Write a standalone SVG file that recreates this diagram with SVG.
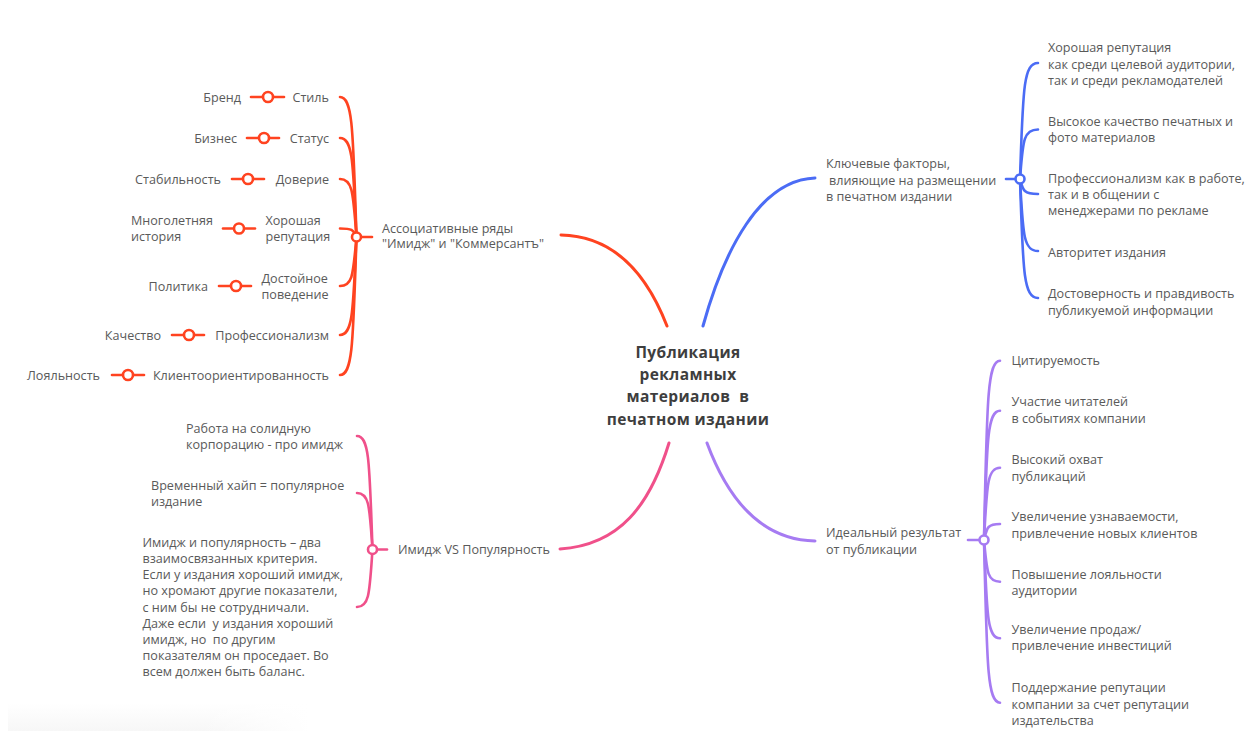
<svg xmlns="http://www.w3.org/2000/svg" width="1256" height="731" viewBox="0 0 1256 731">
<defs>
<linearGradient id="bg" x1="0" y1="0" x2="0" y2="1"><stop offset="0" stop-color="#ffffff"/><stop offset="1" stop-color="#f7f7f7"/></linearGradient>
<linearGradient id="fadeR" x1="0" y1="0" x2="1" y2="0"><stop offset="0" stop-color="#fff" stop-opacity="0"/><stop offset="1" stop-color="#fff" stop-opacity="1"/></linearGradient>
</defs>
<style>
.t{font-family:"Open Sans","Noto Sans","DejaVu Sans",sans-serif;font-size:12.6px;fill:#5a5a5a}
.e{text-anchor:end}
.title{font-family:"Open Sans","Noto Sans","DejaVu Sans",sans-serif;font-size:15.5px;font-weight:700;fill:#3e3e3e;text-anchor:middle;letter-spacing:0.4px}
.c{fill:none;stroke-linecap:round}
.main{stroke-width:3}
.sub{stroke-width:2.6}
.red{stroke:#ff4320}
.blue{stroke:#4b6cf5}
.pink{stroke:#f0508a}
.purp{stroke:#a67bf2}
.nd{fill:#fff;stroke-width:2.6}
</style>
<rect width="1256" height="731" fill="#fff"/>
<rect x="8" y="703" width="300" height="28" fill="url(#bg)"/>
<rect x="200" y="700" width="110" height="31" fill="url(#fadeR)"/>

<g id="connectors">
<path class="c main red" d="M561 235 C612 236 646 272 667 326"/>
<path class="c main blue" d="M703 326 C724 250 760 180 815 178"/>
<path class="c main pink" d="M669 443 C650 505 620 545 560 549"/>
<path class="c main purp" d="M707 443 C730 505 765 540 815 541"/>
</g>

<g id="center">
<text class="title" x="688" y="357.5">Публикация</text>
<text class="title" x="688" y="379.5">рекламных</text>
<text class="title" x="688" y="402" xml:space="preserve">материалов  в</text>
<text class="title" x="688" y="424.5">печатном издании</text>
</g>

<g id="node-assoc">
<g class="c sub red">
<path d="M356.5 237 C353 132 353 97 340 97"/>
<path d="M356.5 237 C353 163 353 138 340 138"/>
<path d="M356.5 237 C353 193.5 353 179 340 179"/>
<path d="M356.5 237 C353 230 353 228.5 340 228.5"/>
<path d="M356.5 237 C353 274 353 286 340 286"/>
<path d="M356.5 237 C353 310.5 353 335 340 335"/>
<path d="M356.5 237 C353 340.5 353 375 340 375"/>
<path d="M361 237 H372"/>
</g>
<circle class="nd red" cx="356.5" cy="237" r="4.5"/>
<text class="t" x="382" y="232.5">Ассоциативные ряды</text>
<text class="t" x="382" y="248">"Имидж" и "Коммерсантъ"</text>
</g>

<g id="assoc-items">
<g class="c sub red">
<path d="M251 97 H284"/><path d="M247 138 H279"/><path d="M232 179 H264"/><path d="M223 228.5 H255"/>
<path d="M219 286 H251"/><path d="M172 335 H204"/><path d="M112 375 H144"/>
</g>
<g class="nd red">
<circle cx="268" cy="97" r="5"/><circle cx="264" cy="138" r="5"/><circle cx="248" cy="179" r="5"/><circle cx="239" cy="228.5" r="5"/>
<circle cx="236" cy="286" r="5"/><circle cx="189" cy="335" r="5"/><circle cx="128" cy="375" r="5"/>
</g>
<text class="t e" x="329" y="101.5">Стиль</text>
<text class="t e" x="241" y="101.5">Бренд</text>
<text class="t e" x="329" y="142.5">Статус</text>
<text class="t e" x="237" y="142.5">Бизнес</text>
<text class="t e" x="329" y="183.5">Доверие</text>
<text class="t e" x="221" y="183.5">Стабильность</text>
<text class="t" x="265.5" y="225">Хорошая</text>
<text class="t" x="265.5" y="241">репутация</text>
<text class="t" x="131" y="225">Многолетняя</text>
<text class="t" x="131" y="241">история</text>
<text class="t" x="261.5" y="282.5">Достойное</text>
<text class="t" x="261.5" y="298.5">поведение</text>
<text class="t e" x="208" y="290.5">Политика</text>
<text class="t e" x="329" y="339.5">Профессионализм</text>
<text class="t e" x="161" y="339.5">Качество</text>
<text class="t e" x="329" y="379.5">Клиентоориентированность</text>
<text class="t e" x="100" y="379.5">Лояльность</text>
</g>

<g id="node-image">
<g class="c sub pink">
<path d="M372.5 549.5 C369.5 464.4 369.5 436 357 436"/>
<path d="M372.5 549.5 C369.5 507 369.5 493 357 493"/>
<path d="M372.5 549.5 C369.5 592.6 369.5 607 357 607"/>
<path d="M377 549.5 H387"/>
</g>
<circle class="nd pink" cx="372.5" cy="549.5" r="4.5"/>
<text class="t" x="398" y="554">Имидж VS Популярность</text>
<text class="t" x="186" y="432.5">Работа на солидную</text>
<text class="t" x="186" y="448.5">корпорацию - про имидж</text>
<text class="t" x="151" y="489.5">Временный хайп = популярное</text>
<text class="t" x="151" y="505.5">издание</text>
<text class="t" x="142.5" y="546.8">Имидж и популярность – два</text>
<text class="t" x="142.5" y="563">взаимосвязанных критерия.</text>
<text class="t" x="142.5" y="579.2">Если у издания хороший имидж,</text>
<text class="t" x="142.5" y="595.4">но хромают другие показатели,</text>
<text class="t" x="142.5" y="611.6">с ним бы не сотрудничали.</text>
<text class="t" x="142.5" y="627.8" xml:space="preserve">Даже если  у издания хороший</text>
<text class="t" x="142.5" y="644" xml:space="preserve">имидж, но  по другим</text>
<text class="t" x="142.5" y="660.2">показателям он проседает. Во</text>
<text class="t" x="142.5" y="676.4">всем должен быть баланс.</text>
</g>

<g id="node-factors">
<g class="c sub blue">
<path d="M1020 179 C1023 92 1023 63 1038 63"/>
<path d="M1020 179 C1023 141.5 1023 129.5 1038 129.5"/>
<path d="M1020 179 C1023 190 1023 194 1038 194"/>
<path d="M1020 179 C1023 233 1023 251 1038 251"/>
<path d="M1020 179 C1023 268 1023 298 1038 298"/>
<path d="M1006 179 H1015"/>
</g>
<circle class="nd blue" cx="1020" cy="179" r="4.5"/>
<text class="t" x="826" y="168">Ключевые факторы,</text>
<text class="t" x="829" y="184.5">влияющие на размещении</text>
<text class="t" x="826" y="200.5">в печатном издании</text>
<text class="t" x="1048" y="52">Хорошая репутация</text>
<text class="t" x="1048" y="68.8">как среди целевой аудитории,</text>
<text class="t" x="1048" y="84.5">так и среди рекламодателей</text>
<text class="t" x="1048" y="126.2">Высокое качество печатных и</text>
<text class="t" x="1048" y="142.2">фото материалов</text>
<text class="t" x="1048" y="182.8">Профессионализм как в работе,</text>
<text class="t" x="1048" y="198.8">так и в общении с</text>
<text class="t" x="1048" y="215.2">менеджерами по рекламе</text>
<text class="t" x="1048" y="256.8">Авторитет издания</text>
<text class="t" x="1048" y="297.8">Достоверность и правдивость</text>
<text class="t" x="1048" y="314.5">публикуемой информации</text>
</g>

<g id="node-result">
<g class="c sub purp">
<path d="M984 540 C987 405.5 987 360.7 1000 360.7"/>
<path d="M984 540 C987 443 987 410.7 1000 410.7"/>
<path d="M984 540 C987 485.8 987 467.7 1000 467.7"/>
<path d="M984 540 C987 528 987 524 1000 524"/>
<path d="M984 540 C987 571.3 987 581.7 1000 581.7"/>
<path d="M984 540 C987 613.7 987 638.3 1000 638.3"/>
<path d="M984 540 C987 662 987 702.7 1000 702.7"/>
<path d="M968 540 H979"/>
</g>
<circle class="nd purp" cx="984" cy="540" r="4.5"/>
<text class="t" x="826" y="536.5">Идеальный результат</text>
<text class="t" x="826" y="553.5">от публикации</text>
<text class="t" x="1011.5" y="365.2">Цитируемость</text>
<text class="t" x="1011.5" y="406.3">Участие читателей</text>
<text class="t" x="1011.5" y="423.3">в событиях компании</text>
<text class="t" x="1011.5" y="463.8">Высокий охват</text>
<text class="t" x="1011.5" y="480.5">публикаций</text>
<text class="t" x="1011.5" y="520.8">Увеличение узнаваемости,</text>
<text class="t" x="1011.5" y="537.8">привлечение новых клиентов</text>
<text class="t" x="1011.5" y="578.8">Повышение лояльности</text>
<text class="t" x="1011.5" y="594.5">аудитории</text>
<text class="t" x="1011.5" y="633.8">Увеличение продаж/</text>
<text class="t" x="1011.5" y="650.2">привлечение инвестиций</text>
<text class="t" x="1011.5" y="691.8">Поддержание репутации</text>
<text class="t" x="1011.5" y="708.5">компании за счет репутации</text>
<text class="t" x="1011.5" y="725.2">издательства</text>
</g>
</svg>
